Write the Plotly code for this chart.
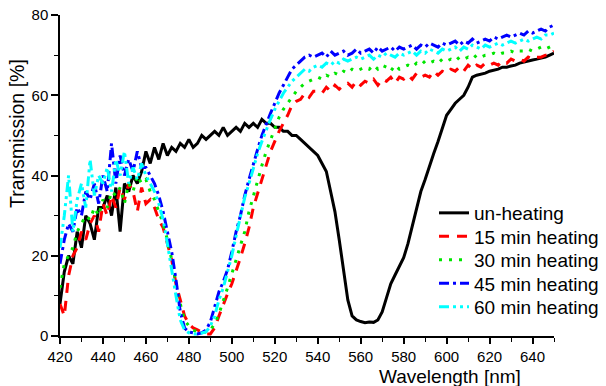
import plotly.graph_objects as go

wavelength = list(range(420, 651, 2))

unheated = [
    8, 16, 20, 18, 26, 22, 30, 28, 24, 32,
    32, 35, 30, 37, 26, 38, 36, 40, 38, 41,
    46, 43, 47, 44, 48, 45, 47, 46, 48, 47,
    49, 47, 48, 50, 49, 50, 51, 50, 52, 50,
    51, 52, 51, 53, 52, 53, 52, 54, 53, 53,
    52, 52, 51, 51, 50, 50, 49, 48, 47, 46,
    45, 43, 41, 36, 31, 24, 16, 9, 5, 4,
    3.6, 3.3, 3.5, 3.4, 4.0, 6.0, 9.5, 13, 15.2, 17.5,
    19.5, 23, 27.5, 32, 36, 39, 42.5, 45.5, 48.5, 52,
    55, 56.5, 58, 59, 60, 62, 64.5, 65, 65.2, 65.5,
    66, 66.2, 66.5, 67, 67, 67.3, 67.5, 68, 68.3, 68.6,
    68.8, 69, 69.3, 69.5, 70, 70.5,
]

heat15 = [
    8, 5, 15, 20, 22, 26, 24, 28, 30, 26,
    33, 30, 35, 32, 37, 34, 38, 36, 31, 37,
    33, 34, 32, 29, 27, 23, 19, 13, 9, 5,
    3, 2, 1.5, 1, 0.5, 0.5, 2, 5, 8, 10.5,
    13, 16, 19.5, 23, 27, 32, 35.5, 38.5, 42, 46,
    48.5, 51, 53, 55, 57.5, 58.5, 59, 60.5, 59.5, 61,
    61, 60.5, 62, 61, 62.5, 61.5, 62.5, 63, 62, 63.5,
    62.5, 63.5, 63, 64, 62.5, 64, 63.5, 64.5, 63, 64.5,
    64, 65, 64, 65.5, 64.5, 65, 64.5, 66, 65, 66,
    65.5, 66.5, 66, 67, 66, 67.5, 66.5, 67.5, 67, 68,
    67.5, 68, 67.5, 68.5, 68, 69, 68.5, 69, 68.5, 69.5,
    69, 69.5, 69.5, 70, 70, 71,
]

heat30 = [
    12, 18, 20, 22, 26, 28, 30, 29, 32, 30,
    34, 32, 36, 35, 37, 33, 38, 36, 40, 38,
    39, 36, 34, 31, 28, 24, 19, 13, 8, 4,
    2.5, 1.5, 1, 0.8, 1, 1.5, 3, 5.5, 8.5, 12,
    15.5, 19, 22.5, 26, 31, 35, 38.5, 42.5, 46, 49,
    52, 54.5, 56.5, 58, 59.5, 61, 62, 63, 63.5, 64,
    64.5, 64, 65, 64.5, 65.5, 65, 66, 65.5, 66.5, 66,
    66.5, 67, 66.5, 67.5, 66.5, 67.5, 67, 66, 67.5, 66.5,
    67, 67.5, 67, 68, 67.5, 68.5, 68, 68.5, 68, 69,
    68.5, 69, 68.5, 69.5, 69, 69.5, 69, 70, 69.5, 70,
    70, 70.5, 70, 70.5, 70.5, 71, 70.5, 71, 71, 71.5,
    71, 71.5, 72, 71.5, 72, 72.5,
]

heat45 = [
    18, 24, 28, 26, 32, 30, 36, 34, 38, 33,
    40, 36, 48, 38, 45, 40, 44, 41, 46, 42,
    42, 40, 38, 35, 31, 26, 21, 14, 6, 2,
    1, 0.8, 0.5, 0.8, 1.5, 3.5, 7, 11, 13.5, 16.5,
    21, 26, 30, 35, 39, 43, 46.5, 50, 53, 55.5,
    58, 60.5, 62.5, 64.5, 66.5, 67.5, 68.5, 69.5, 70, 69.5,
    70, 70.5, 69.5, 71, 70, 70.5, 71, 70, 70.5, 71.5,
    70.5, 71, 71.5, 70.5, 72, 71, 71.5, 72, 71, 72,
    71.5, 72, 72.5, 71.5, 72.5, 72, 73, 72.5, 72, 73,
    72.5, 73, 73.5, 72.5, 73.5, 73, 74, 73, 73.5, 74,
    73.5, 74.5, 74, 74.5, 75, 74.5, 75, 75.5, 75, 76,
    75.5, 76, 76.5, 76, 77, 77.5,
]

heat60 = [
    22, 30, 40, 26, 34, 38, 32, 44, 35, 40,
    38, 42, 36, 44, 40, 46, 38, 42, 39, 43,
    40, 38, 36, 33, 29, 23, 16, 10, 4, 1.5,
    0.8, 0.5, 0.5, 0.8, 1, 2.5, 5, 9, 12, 16,
    20, 25, 30, 34.5, 38, 42, 45.5, 48.5, 51.5, 54,
    56.5, 58.5, 60.5, 62, 63.5, 64.5, 65.5, 66.5, 66, 67,
    67.5, 67, 68, 67.5, 68.5, 68, 69, 68.5, 69, 69.5,
    69, 69.5, 70, 69, 70, 69.5, 70.5, 70, 69.5, 70.5,
    70, 70.5, 71, 70, 71, 70.5, 71.5, 71, 70.5, 71.5,
    71, 71.5, 72, 71, 72, 71.5, 72.5, 72, 71.5, 72.5,
    72, 72.5, 73, 72.5, 73, 73.5, 73, 73.5, 74, 73.5,
    74, 74.5, 74, 75, 75, 75.5,
]

series_names = ["un-heating", "15 min heating", "30 min heating", "45 min heating", "60 min heating"]
series_values = [unheated, heat15, heat30, heat45, heat60]
colors = ["#000000", "#ff0000", "#00e600", "#0000ff", "#00ffff"]
dashes = ["solid", "10px,8px", "3px,7px", "10px,4px,3px,4px", "10px,4px,3px,4px,3px,4px"]

x_ticks = list(range(420, 651, 20))
y_ticks = [0, 20, 40, 60, 80]

W, H = 606, 386
ML, MR, MT, MB = 60, 52, 15, 50
PW, PH = W - ML - MR, H - MT - MB


def px_x(px):
    return (px - ML) / PW


def px_y(py):
    return 1 - (py - MT) / PH


legend_rows = [213, 236.5, 260, 283.5, 307]
legend_keys = ["legend", "legend2", "legend3", "legend4", "legend5"]

fig = go.Figure()
for name, vals, c, d, key in zip(series_names, series_values, colors, dashes, legend_keys):
    fig.add_trace(go.Scatter(
        x=wavelength, y=vals, name=name, mode="lines",
        line=dict(color=c, width=3, dash=d), legend=key,
    ))

font_family = "Liberation Sans, Arial, sans-serif"

legend_layout = {}
for key, row in zip(legend_keys, legend_rows):
    legend_layout[key] = dict(
        x=px_x(434), y=px_y(row), xanchor="left", yanchor="middle",
        bgcolor="rgba(0,0,0,0)", font=dict(size=19), borderwidth=0,
    )

fig.update_layout(
    width=W, height=H,
    margin=dict(l=ML, r=MR, t=MT, b=MB, autoexpand=False),
    plot_bgcolor="white", paper_bgcolor="white",
    font=dict(family=font_family, size=15, color="black"),
    showlegend=True,
    xaxis=dict(
        range=[420, 650], tickvals=x_ticks, showline=True, linecolor="black",
        linewidth=1.5, ticks="outside", ticklen=6, tickwidth=1.5, tickcolor="black",
        minor=dict(dtick=10, ticks="outside", ticklen=4, tickwidth=1.2, tickcolor="black"),
        showgrid=False, zeroline=False, tickfont=dict(size=15), automargin=False,
    ),
    yaxis=dict(
        range=[0, 80], tickvals=y_ticks, showline=True, linecolor="black",
        linewidth=1.5, ticks="outside", ticklen=7, tickwidth=1.5, tickcolor="black",
        minor=dict(dtick=10, ticks="outside", ticklen=4, tickwidth=1.2, tickcolor="black"),
        showgrid=False, zeroline=False, tickfont=dict(size=15), automargin=False,
    ),
    annotations=[
        dict(text="Wavelength [nm]", xref="paper", yref="paper",
             x=px_x(450), y=px_y(388), xanchor="center", yanchor="bottom",
             showarrow=False, font=dict(size=19), borderpad=0),
        dict(text="Transmission [%]", xref="paper", yref="paper",
             x=px_x(17), y=px_y(134), xanchor="center", yanchor="middle",
             textangle=-90, showarrow=False, font=dict(size=19.5)),
    ],
    **legend_layout,
)

fig.write_html("out.html", config={"displayModeBar": False},
               post_script="document.body.style.margin='0';")
